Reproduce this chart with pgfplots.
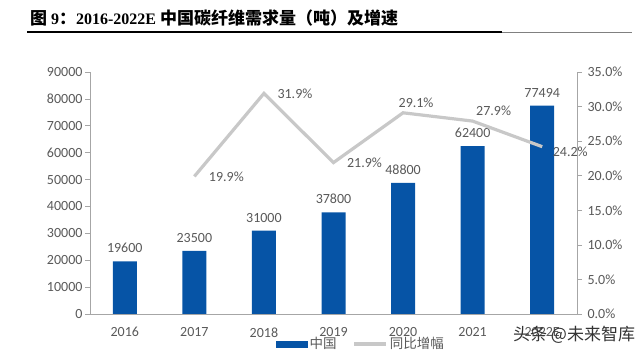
\documentclass[border=0pt]{standalone}
\usepackage{fontspec}
\setmainfont{Carlito}
\newfontfamily\cjk{Noto Sans CJK SC}
\newfontfamily\tserif{Liberation Serif}
\usepackage{pgfplots}
\pgfplotsset{compat=1.18}
\definecolor{barblue}{RGB}{6,84,166}
\definecolor{linegray}{RGB}{200,200,200}
\definecolor{txtgray}{RGB}{89,89,89}
\definecolor{axgray}{RGB}{166,166,166}
\pgfplotstableread{
x y dx dy
1 19.9 13 0
2 31.9 12 0
3 21.9 12 0
4 29.1 -6 10
5 27.9 2 10
6 24.2 9 -5
}\growth
\begin{document}
\begin{tikzpicture}[x=1pt,y=1pt]
\useasboundingbox (0,0) rectangle (640,356);
\node[anchor=west, inner sep=0] at (30pt,338pt) {\bfseries\fontsize{17}{18}\selectfont\cjk 图 \fontsize{16}{18}\selectfont\tserif\bfseries 9\fontsize{17}{18}\selectfont\cjk\bfseries ：\fontsize{16}{18}\selectfont\tserif\bfseries 2016-2022E \fontsize{17}{18}\selectfont\cjk\bfseries 中国碳纤维需求量（吨）及增速};
\draw[line width=1.3pt] (27pt,324pt) -- (502pt,324pt);
\draw[line width=0.8pt, gray] (502pt,324pt) -- (632pt,324pt);
\begin{axis}[
  at={(90pt,42pt)}, anchor=south west,
  width=487pt, height=242pt, scale only axis,
  xmin=-0.5, xmax=6.5, ymin=0, ymax=90000,
  axis x line*=bottom, axis y line*=left,
  axis line style={axgray, line width=0.8pt},
  xtick={0,...,6}, xticklabels={2016,2017,2018,2019,2020,2021,2022E},
  major x tick style={draw=none},
  extra x ticks={0.5,1.5,2.5,3.5,4.5,5.5}, extra x tick labels={},
  extra x tick style={major tick length=4pt, tick style={axgray, line width=0.6pt}},
  ytick={0,10000,...,90000},
  scaled y ticks=false,
  /pgf/number format/1000 sep={},
  /pgf/number format/assume math mode=true,
  tick align=outside, major tick length=5pt,
  ytick style={axgray, line width=0.6pt},
  tick label style={font=\fontsize{14}{16}\selectfont, text=txtgray},
  yticklabel style={xshift=1pt},
  xticklabel style={yshift=-5pt},
  ybar, bar width=24pt,
  nodes near coords,
  nodes near coords style={font=\fontsize{14}{16}\selectfont, text=txtgray, yshift=5pt},
  clip=false,
]
\addplot[fill=barblue, draw=none] coordinates {(0,19600) (1,23500) (2,31000) (3,37800) (4,48800) (5,62400) (6,77494)};
\end{axis}
\begin{axis}[
  at={(90pt,42pt)}, anchor=south west,
  width=487pt, height=242pt, scale only axis,
  xmin=-0.5, xmax=6.5, ymin=0, ymax=35,
  axis x line=none, axis y line*=right,
  axis line style={axgray, line width=0.8pt},
  ytick={0,5,...,35},
  yticklabel={\pgfmathprintnumber[fixed,fixed zerofill,precision=1]{\tick}\%},
  /pgf/number format/assume math mode=true,
  tick align=outside, major tick length=5pt,
  ytick style={axgray, line width=0.6pt},
  tick label style={font=\fontsize{14}{16}\selectfont, text=txtgray},
  yticklabel style={xshift=2pt},
  clip=false,
  legend style={at={(0.382,-0.124)}, anchor=west, draw=none, fill=none,
    font=\fontsize{13.5}{15}\selectfont\cjk, text=txtgray,
    inner sep=0pt, /tikz/every even column/.append style={column sep=14pt}},
  legend columns=2,
]
\addlegendimage{legend image code/.code={\fill[barblue] (0pt,-3pt) rectangle (31pt,3pt);}}
\addlegendentry{中国}
\addplot[linegray, line width=3.2pt, mark=none,
  legend image code/.code={\draw[linegray, line width=3.2pt] (0pt,0pt) -- (32pt,0pt);},
  point meta=y,
  visualization depends on={\thisrow{dx}\as\dx},
  visualization depends on={\thisrow{dy}\as\dy},
  nodes near coords={\pgfmathprintnumber[fixed,fixed zerofill,precision=1]{\pgfplotspointmeta}\%},
  nodes near coords style={anchor=west, inner sep=0pt, xshift=\dx, yshift=\dy, text=txtgray, font=\fontsize{14}{16}\selectfont},
] table[x=x, y=y] {\growth};
\addlegendentry{同比增幅}
\end{axis}
\node[anchor=west, inner sep=0, text={rgb,255:red,51;green,51;blue,51}] at (513pt,21pt) {\fontsize{17}{19}\selectfont\cjk 头条 @未来智库};
\end{tikzpicture}
\end{document}
